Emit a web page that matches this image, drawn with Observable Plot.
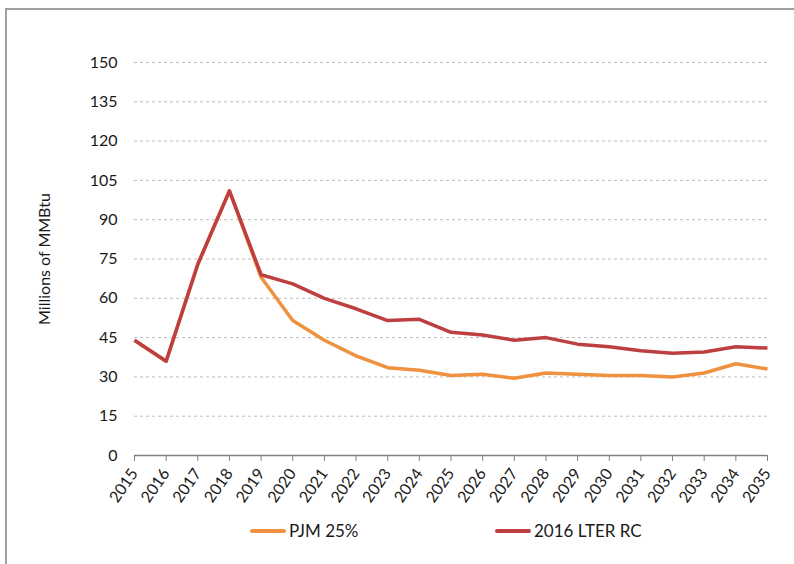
<!DOCTYPE html>
<html>
<head>
<meta charset="utf-8">
<script src="https://cdn.jsdelivr.net/npm/d3@7"></script>
<script src="https://cdn.jsdelivr.net/npm/@observablehq/plot@0.6"></script>
<style>
  html, body { margin: 0; padding: 0; background: #fff; width: 794px; height: 564px; overflow: hidden; }
  #frame { position: absolute; left: 5px; top: 8px; width: 900px; height: 700px; border-left: 2px solid #a0a0a0; border-top: 2px solid #a0a0a0; }
  #chart { position: absolute; left: 0; top: 0; }
  #legend { position: absolute; top: 520px; left: 0; width: 794px; font-family: Lato, "Open Sans", sans-serif; font-size: 17px; color: #1a1a1a; }
  .item { position: absolute; display: flex; align-items: center; }
  .sw { display: inline-block; width: 36px; height: 4px; margin-right: 3px; border-radius: 2px; }
</style>
</head>
<body>
<div id="frame"></div>
<div id="chart"></div>
<div id="legend"></div>
<script>
const years = [2015,2016,2017,2018,2019,2020,2021,2022,2023,2024,2025,2026,2027,2028,2029,2030,2031,2032,2033,2034,2035];
const lterRC = [44,36,73,101,69,65.5,60,56,51.5,52,47,46,44,45,42.5,41.5,40,39,39.5,41.5,41];
const pjm25 = [44,36,73,101,68,51.5,44,38,33.5,32.5,30.5,31,29.5,31.5,31,30.5,30.5,30,31.5,35,33];
const yTicks = [0,15,30,45,60,75,90,105,120,135,150];
const seriesNames = ["PJM 25%", "2016 LTER RC"];
const seriesColors = ["#F0913F", "#BE3F3F"];

const rows = [];
years.forEach((yr, i) => {
  rows.push({year: yr, value: pjm25[i], series: seriesNames[0]});
});
years.forEach((yr, i) => {
  rows.push({year: yr, value: lterRC[i], series: seriesNames[1]});
});

const font = "Lato, 'Open Sans', sans-serif";

const chart = Plot.plot({
  width: 794,
  height: 564,
  marginLeft: 134,
  marginRight: 27,
  marginTop: 62,
  marginBottom: 109,
  style: {fontFamily: font, fontSize: "16px", color: "#1a1a1a", background: "transparent"},
  x: {domain: [2015, 2035]},
  y: {domain: [0, 150]},
  color: {domain: seriesNames, range: seriesColors},
  marks: [
    Plot.gridY(yTicks.filter(d => d > 0), {stroke: "#bdbdbd", strokeOpacity: 1, strokeDasharray: "3,3", strokeWidth: 1}),
    Plot.axisY({ticks: yTicks, tickSize: 0, tickPadding: 17, tickFormat: d => String(d), label: "Millions of MMBtu", labelAnchor: "center", labelArrow: "none", labelOffset: 96, fontSize: 16}),
    Plot.ruleY([0], {stroke: "#808080", strokeWidth: 1.5}),
    Plot.axisX({ticks: years, tickFormat: d => String(d), tickSize: 6, tickPadding: 9, tickRotate: -55, stroke: "#808080", label: null, fontSize: 16}),
    Plot.line(rows, {x: "year", y: "value", z: "series", stroke: "series", strokeWidth: 3.5, strokeLinejoin: "round", strokeLinecap: "butt"})
  ]
});
document.getElementById("chart").appendChild(chart);

const legend = document.getElementById("legend");
const lefts = [250, 495];
seriesNames.forEach((name, i) => {
  const it = document.createElement("div");
  it.className = "item";
  it.style.left = lefts[i] + "px";
  const sw = document.createElement("span");
  sw.className = "sw";
  sw.style.background = seriesColors[i];
  const tx = document.createElement("span");
  tx.textContent = name;
  it.appendChild(sw);
  it.appendChild(tx);
  legend.appendChild(it);
});
</script>
</body>
</html>
